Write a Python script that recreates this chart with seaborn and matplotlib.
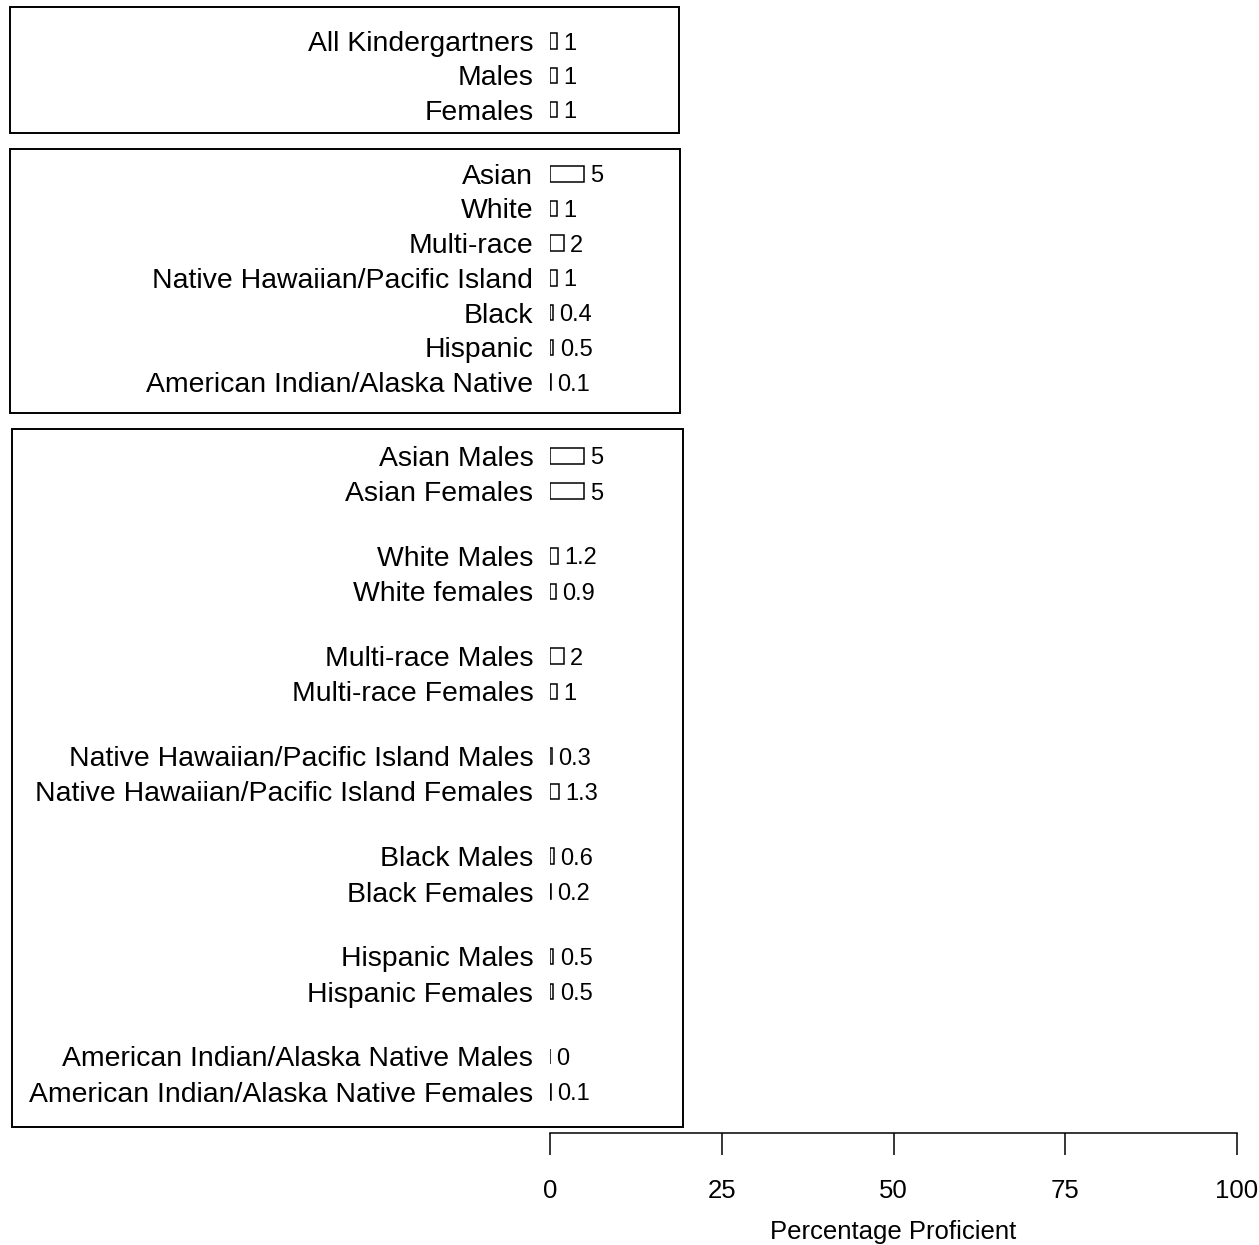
import matplotlib
matplotlib.use("Agg")
import matplotlib.pyplot as plt
from matplotlib.patches import Rectangle
import pandas as pd
import seaborn as sns

# groups of labels and percentage proficient values
overall_labels = ["All Kindergartners", "Males", "Females"]
overall_values = [1, 1, 1]

race_labels = ["Asian", "White", "Multi-race", "Native Hawaiian/Pacific Island",
               "Black", "Hispanic", "American Indian/Alaska Native"]
race_values = [5, 1, 2, 1, 0.4, 0.5, 0.1]

race_sex_labels = ["Asian Males", "Asian Females",
                   "White Males", "White females",
                   "Multi-race Males", "Multi-race Females",
                   "Native Hawaiian/Pacific Island Males", "Native Hawaiian/Pacific Island Females",
                   "Black Males", "Black Females",
                   "Hispanic Males", "Hispanic Females",
                   "American Indian/Alaska Native Males", "American Indian/Alaska Native Females"]
race_sex_values = [5, 5, 1.2, 0.9, 2, 1, 0.3, 1.3, 0.6, 0.2, 0.5, 0.5, 0, 0.1]

x_ticks = [0, 25, 50, 75, 100]

# row positions (in row units): gaps between groups and between pairs
rows = []
pos = 0.0
for lab, val in zip(overall_labels, overall_values):
    rows.append((lab, val, pos))
    pos += 1.02
pos += 1.9 - 1.02
for lab, val in zip(race_labels, race_values):
    rows.append((lab, val, pos))
    pos += 1.03
pos += 2.19 - 1.03
for i, (lab, val) in enumerate(zip(race_sex_labels, race_sex_values)):
    rows.append((lab, val, pos))
    pos += 1.05 if i % 2 == 0 else 1.92

df = pd.DataFrame(rows, columns=["label", "value", "pos"])

W, H = 1259, 1245
sns.set_style("ticks")
plt.rcParams['font.family'] = ['Liberation Sans', 'DejaVu Sans']
plt.rcParams['text.color'] = 'black'
plt.rcParams['axes.labelcolor'] = 'black'
plt.rcParams['xtick.color'] = 'black'
plt.rcParams['ytick.color'] = 'black'

fig = plt.figure(figsize=(W / 100, H / 100), dpi=100)
ax = fig.add_axes([550 / W, (H - 1133) / H, 687 / W, 1133 / H])

sns.barplot(data=df, x="value", y="pos", orient="y", native_scale=True,
            errorbar=None, width=0.45, color="white", saturation=1,
            edgecolor="black", linewidth=1.1, ax=ax)

for _, r in df.iterrows():
    ax.annotate(f"{r['value']:g}", xy=(r["value"], r["pos"]), xytext=(4.5, 0),
                textcoords="offset points", va="center_baseline", ha="left",
                fontsize=17)

s = 33.7
ax.set_xlim(0, 100)
ax.set_ylim((1133 - 41) / s, -41 / s)
ax.set_yticks(df["pos"])
ax.set_yticklabels(df["label"], fontsize=20.4, va="center_baseline")
ax.tick_params(axis="y", length=0, pad=12)
ax.set_xticks(x_ticks)
ax.set_xticklabels([str(t) for t in x_ticks], fontsize=18.5)
ax.tick_params(axis="x", length=16, width=1.1, pad=17, direction="out")
ax.set_xlabel("Percentage Proficient", fontsize=18.5, labelpad=12)
ax.set_ylabel("")
for side in ["left", "top", "right"]:
    ax.spines[side].set_visible(False)
ax.spines["bottom"].set_bounds(0, 100)
ax.spines["bottom"].set_linewidth(1.1)
ax.spines["bottom"].set_color("black")

# group frames
for x0, y0, x1, y1 in [(10, 7, 679, 133), (10, 149, 680, 413), (12, 429, 683, 1127)]:
    fig.add_artist(Rectangle((x0 / W, 1 - y1 / H), (x1 - x0) / W, (y1 - y0) / H,
                             transform=fig.transFigure, fill=False,
                             edgecolor="black", linewidth=1.4))

fig.savefig("out.png", dpi=100)
